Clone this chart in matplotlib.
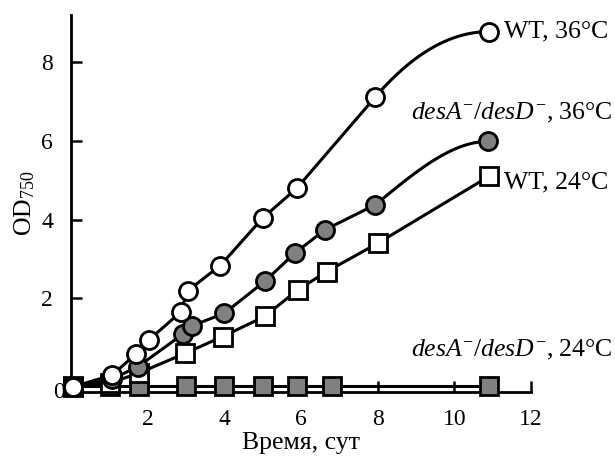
import numpy as np
import matplotlib
matplotlib.use("Agg")
import matplotlib.pyplot as plt

plt.rcParams['font.family'] = ['Liberation Serif', 'DejaVu Serif']
plt.rcParams['mathtext.fontset'] = 'custom'
plt.rcParams['mathtext.rm'] = 'Liberation Serif'
plt.rcParams['mathtext.it'] = 'Liberation Serif:italic'

# WT, 36°C (open circles)
wt36_x = [0.05, 1.07, 1.69, 2.03, 2.86, 3.04, 3.89, 5.0, 5.89, 7.94, 10.9]
wt36_y = [-0.25, 0.05, 0.58, 0.94, 1.65, 2.19, 2.83, 4.04, 4.8, 7.12, 8.78]
# desA-/desD-, 36°C (grey circles)
mut36_x = [0.05, 1.07, 1.74, 2.92, 3.15, 4.0, 5.05, 5.84, 6.62, 7.94, 10.88]
mut36_y = [-0.25, -0.05, 0.26, 1.09, 1.3, 1.62, 2.43, 3.15, 3.74, 4.38, 5.99]
# WT, 24°C (open squares)
wt24_x = [0.05, 1.02, 1.77, 2.97, 3.96, 5.05, 5.91, 6.67, 8.0, 10.9]
wt24_y = [-0.25, -0.15, 0.1, 0.6, 1.03, 1.54, 2.21, 2.68, 3.4, 5.1]
# desA-/desD-, 24°C (grey squares)
mut24_x = [0.05, 1.02, 1.77, 3.0, 4.0, 5.0, 5.89, 6.8, 10.9]
mut24_y = [-0.23, -0.23, -0.23, -0.23, -0.23, -0.23, -0.23, -0.23, -0.23]


def curve(x, y, level_off, n=60):
    # straight segments; with level_off the last one bends flat into the end point
    x = np.asarray(x, float)
    y = np.asarray(y, float)
    if not level_off:
        return x, y
    d = np.diff(y) / np.diff(x)
    h = x[-1] - x[-2]
    m0 = max(d[-2], 1.45 * d[-1])
    m1 = 0.0
    t = np.linspace(0, 1, n)[1:]
    h00 = 2 * t**3 - 3 * t**2 + 1
    h10 = t**3 - 2 * t**2 + t
    h01 = -2 * t**3 + 3 * t**2
    h11 = t**3 - t**2
    tail_y = h00 * y[-2] + h10 * h * m0 + h01 * y[-1] + h11 * h * m1
    tail_x = x[-2] + t * h
    return np.concatenate([x[:-1], tail_x]), np.concatenate([y[:-1], tail_y])


fig = plt.figure(figsize=(6.15, 4.59), dpi=100)
ax = fig.add_axes([0.1154, 0.146, 0.7480, 0.821])

grey = '#808080'
lw = 2.2
ms = 13
mew = 2.0

series = [
    (mut24_x, mut24_y, 's', grey, False),
    (wt24_x, wt24_y, 's', 'white', False),
    (mut36_x, mut36_y, 'o', grey, True),
    (wt36_x, wt36_y, 'o', 'white', True),
]
for z, (xs, ys, mk, fc, bend) in enumerate(series):
    cx, cy = curve(xs, ys, bend)
    ax.plot(cx, cy, color='black', lw=lw, zorder=2 + z * 2,
            solid_capstyle='round', solid_joinstyle='round')
    ax.plot(xs, ys, linestyle='none', marker=mk, ms=ms, mfc=fc, mec='black',
            mew=mew, zorder=3 + z * 2, clip_on=False)

ax.set_xlim(0, 12)
ax.set_ylim(-0.38, 9.2)
ax.set_xticks([2, 4, 6, 8, 10, 12])
ax.set_yticks([2, 4, 6, 8])
ax.spines['top'].set_visible(False)
ax.spines['right'].set_visible(False)
for s in ['left', 'bottom']:
    ax.spines[s].set_linewidth(2)
ax.tick_params(direction='in', length=8, width=1.8, labelsize=17, pad=12)
ax.tick_params(axis='y', pad=13)
ax.text(-0.15, -0.4, '0', fontsize=17, ha='right', va='center', zorder=1)

ax.set_xlabel('Время, сут', fontsize=18.5, labelpad=2)
ax.set_ylabel(r'OD$_{750}$', fontsize=18.5, labelpad=3)

fs = 18.5
ax.text(11.3, 8.78, 'WT, 36°C', fontsize=fs, ha='left', va='center', clip_on=False)
ax.text(14.14, 6.72, r'$desA^{-}/desD^{-}$, 36°C', fontsize=fs, ha='right', va='center', clip_on=False)
ax.text(11.3, 4.94, 'WT, 24°C', fontsize=fs, ha='left', va='center', clip_on=False)
ax.text(14.14, 0.69, r'$desA^{-}/desD^{-}$, 24°C', fontsize=fs, ha='right', va='center', clip_on=False)

fig.savefig('out.png', dpi=100)
